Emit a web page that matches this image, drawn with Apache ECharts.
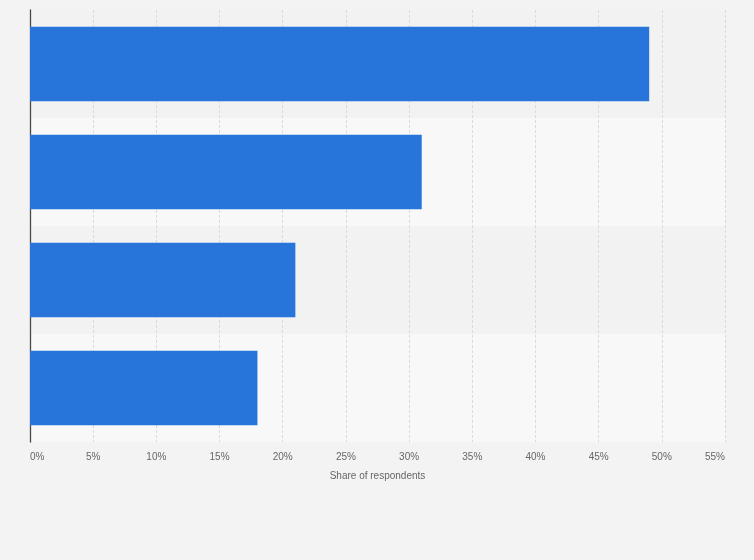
<!DOCTYPE html>
<html>
<head>
<meta charset="utf-8">
<script src="https://cdn.jsdelivr.net/npm/echarts@6/dist/echarts.min.js"></script>
<style>
html,body{margin:0;padding:0;background:#f3f3f3;}
#c{width:754px;height:560px;}
</style>
</head>
<body>
<div id="c"></div>
<script>
const categories = ['Category 1', 'Category 2', 'Category 3', 'Category 4'];
const shareValues = [49, 31, 21, 18];
const xTicks = [0, 5, 10, 15, 20, 25, 30, 35, 40, 45, 50, 55];

const chart = echarts.init(document.getElementById('c'));
chart.setOption({
  backgroundColor: '#f3f3f3',
  animation: false,
  grid: { left: 30, right: 29, top: 10, bottom: 118, containLabel: false },
  xAxis: {
    type: 'value',
    min: xTicks[0],
    max: xTicks[xTicks.length - 1],
    interval: 5,
    name: 'Share of respondents',
    nameLocation: 'middle',
    nameGap: 29,
    nameTextStyle: { color: '#666', fontSize: 10, fontFamily: 'Liberation Sans, Arial, sans-serif' },
    axisLine: { show: false },
    axisTick: { show: false },
    axisLabel: {
      color: '#666', fontSize: 10, margin: 10,
      fontFamily: 'Liberation Sans, Arial, sans-serif',
      formatter: '{value}%',
      alignMinLabel: 'left',
      alignMaxLabel: 'right'
    },
    splitLine: { show: true, lineStyle: { color: '#dadada', type: [3, 2], width: 1 } }
  },
  yAxis: {
    type: 'category',
    data: categories,
    inverse: true,
    axisLine: { show: true, lineStyle: { color: '#4a4a4a', width: 1.3 } },
    axisTick: { show: false },
    axisLabel: { show: false },
    splitArea: { show: true, areaStyle: { color: ['#f2f2f2', '#f8f8f8'] } }
  },
  series: [{
    type: 'bar',
    data: shareValues,
    barCategoryGap: '31%',
    itemStyle: { color: '#2775db' }
  }]
});
</script>
</body>
</html>
